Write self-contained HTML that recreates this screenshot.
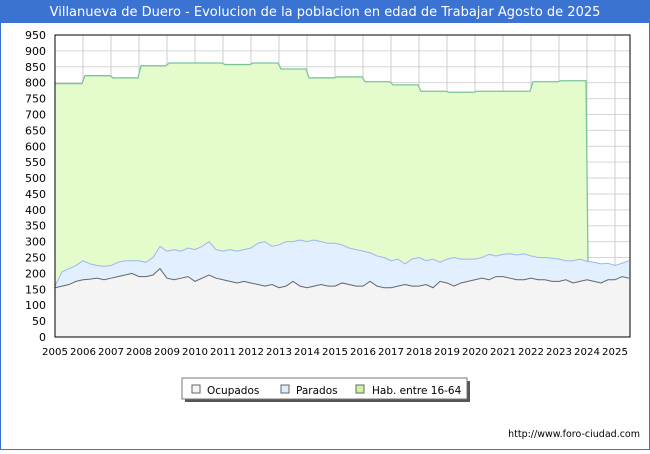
<!DOCTYPE html>
<html><head><meta charset="utf-8"><style>
body{margin:0;width:650px;height:450px;overflow:hidden;font-family:"DejaVu Sans","Liberation Sans",sans-serif;}
</style></head><body>
<svg width="650" height="450" xmlns="http://www.w3.org/2000/svg">
<rect x="0" y="0" width="650" height="450" fill="#fff" stroke="#3b73d3" stroke-width="2"/>
<rect x="0" y="0" width="650" height="23" fill="#3b73d3"/>
<text x="325" y="16" text-anchor="middle" font-size="13" fill="#fff">Villanueva de Duero - Evolucion de la poblacion en edad de Trabajar Agosto de 2025</text>
<g id="grid"></g>
<g id="series"></g>
<g id="axes"></g>
<g>
<rect x="185" y="381" width="285" height="21" fill="#555"/>
<rect x="182" y="378" width="285" height="21" fill="#fff" stroke="#777"/>
<rect x="192" y="385" width="8" height="8" fill="#f4f4f4" stroke="#666"/>
<text x="207" y="394" font-size="10.5">Ocupados</text>
<rect x="281" y="385" width="8" height="8" fill="#ddeeff" stroke="#666"/>
<text x="296" y="394" font-size="10.5">Parados</text>
<rect x="356" y="385" width="8" height="8" fill="#ccf5a0" stroke="#666"/>
<text x="372" y="394" font-size="10.5">Hab. entre 16-64</text>
</g>
<text x="640" y="437" text-anchor="end" font-size="9.5">http://www.foro-ciudad.com</text>
</svg>
<script>
const years=[2005,2006,2007,2008,2009,2010,2011,2012,2013,2014,2015,2016,2017,2018,2019,2020,2021,2022,2023,2024,2025];
const yTicks=[0,50,100,150,200,250,300,350,400,450,500,550,600,650,700,750,800,850,900,950];
const habYears=[2005,2006,2007,2008,2009,2010,2011,2012,2013,2014,2015,2016,2017,2018,2019,2020,2021,2022,2023];
const hab=[797,822,815,853,862,862,857,862,843,815,818,803,793,773,770,773,773,803,806];
const ocupados=[155,160,165,175,180,182,185,180,185,190,195,200,190,190,195,215,185,180,185,190,175,185,195,185,180,175,170,175,170,165,160,165,155,160,175,160,155,160,165,160,160,170,165,160,160,175,160,155,155,160,165,160,160,165,155,175,170,160,170,175,180,185,180,190,190,185,180,180,185,180,180,175,175,180,170,175,180,175,170,180,180,190,185];
const total=[160,205,215,225,240,230,225,222,225,235,240,240,240,235,250,285,270,275,270,280,275,285,300,275,270,275,270,275,280,295,300,285,290,300,300,305,300,305,300,295,295,290,280,275,270,265,255,250,240,245,230,245,250,240,245,235,245,250,245,245,245,250,260,255,260,262,258,262,255,250,250,248,245,240,240,245,238,235,230,232,225,232,240];
const X0=55,X1=630,Y0=337,Y1=35;
const xs=y=>X0+(y-2005)*28;
const ys=v=>Y0-v*(Y0-Y1)/950;
const NS="http://www.w3.org/2000/svg";
function mk(tag,attrs,parent){const e=document.createElementNS(NS,tag);for(const k in attrs)e.setAttribute(k,attrs[k]);parent.appendChild(e);return e;}
const grid=document.getElementById('grid'),ser=document.getElementById('series'),ax=document.getElementById('axes');
yTicks.forEach(v=>{
 const l=mk('line',{x1:X0,x2:X1,y1:ys(v),y2:ys(v),stroke:'#d6d6d6'},grid);
 
 
 const t=mk('text',{x:46,y:ys(v)+4,'text-anchor':'end','font-size':'11'},ax);t.textContent=v;
 
 
});
years.forEach(y=>{
 const l=mk('line',{x1:xs(y),x2:xs(y),y1:Y1,y2:Y0,stroke:'#ccc'},grid);
 
 
 const t=mk('text',{x:xs(y),y:355,'text-anchor':'middle','font-size':'10','textLength':'26','lengthAdjust':'spacingAndGlyphs'},ax);t.textContent=y;
 
 
});
const qx=i=>Math.min(xs(2005+i*0.25),X1);
let hp=[];habYears.forEach((y,i)=>{hp.push([xs(y)+(i?2:0),ys(hab[i])]);hp.push([xs(y+1)-1,ys(hab[i])]);});
const lastT=total[Math.round((2024-2005)*4)];
hp.push([xs(2024)+1,ys(lastT)]);
const habPts=hp.map(p=>p.join(',')).join(' ');
let a=mk('polygon',{points:`${X0},${Y0} ${habPts} ${xs(2024)+1},${Y0}`,fill:'#e4fccc'},ser);


let l=mk('polyline',{points:habPts,fill:'none',stroke:'#7cc49a','stroke-width':1.3},ser);


const tp=total.map((v,i)=>qx(i)+','+ys(v)).join(' ');
a=mk('polygon',{points:`${X0},${Y0} ${tp} ${X1},${Y0}`,fill:'#e1efff'},ser);


l=mk('polyline',{points:tp,fill:'none',stroke:'#9ab8ee','stroke-width':1},ser);


const op=ocupados.map((v,i)=>qx(i)+','+ys(v)).join(' ');
a=mk('polygon',{points:`${X0},${Y0} ${op} ${X1},${Y0}`,fill:'#f4f4f4'},ser);


l=mk('polyline',{points:op,fill:'none',stroke:'#666','stroke-width':1},ser);


const b=mk('rect',{x:X0,y:Y1,width:X1-X0,height:Y0-Y1,fill:'none',stroke:'#000'},ax);


</script>
</body></html>
